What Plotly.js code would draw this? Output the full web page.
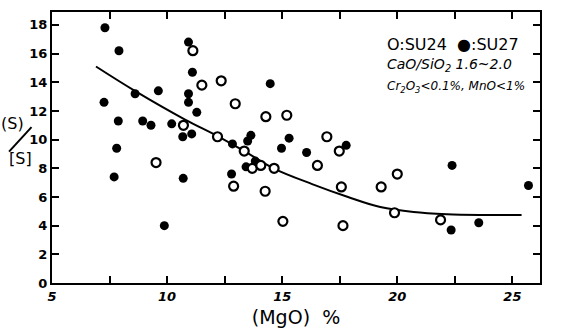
<!DOCTYPE html>
<html>
<head>
<meta charset="utf-8">
<script src="https://cdn.plot.ly/plotly-3.0.1.min.js"></script>
<style>html,body{margin:0;padding:0;background:#fff;}#chart{width:562px;height:334px;}</style>
</head>
<body>
<div id="chart"></div>
<script>
// SU24 (open circles)
const su24X = [11.12, 11.51, 12.35, 12.96, 14.29, 15.2, 10.71, 12.19, 13.35, 9.52, 12.89, 14.26, 15.03, 13.7, 14.07, 14.65, 16.94, 17.48, 16.53, 17.57, 19.3, 20.0, 19.88, 21.88, 17.64];
const su24Y = [16.2, 13.8, 14.1, 12.5, 11.6, 11.7, 11.0, 10.2, 9.2, 8.4, 6.75, 6.4, 4.3, 8.0, 8.2, 8.0, 10.2, 9.2, 8.2, 6.7, 6.7, 7.6, 4.9, 4.4, 4.0];
// SU27 (filled circles)
const su27X = [7.3, 7.91, 10.93, 11.1, 14.48, 8.61, 9.62, 10.93, 10.93, 7.26, 11.29, 7.88, 8.94, 9.3, 10.2, 11.07, 10.68, 7.81, 12.84, 13.64, 13.5, 14.97, 15.3, 16.06, 13.83, 13.43, 7.7, 10.7, 12.8, 9.88, 17.78, 22.38, 25.7, 22.34, 23.54];
const su27Y = [17.8, 16.2, 16.8, 14.7, 13.9, 13.2, 13.4, 13.2, 12.6, 12.6, 11.9, 11.3, 11.3, 11.0, 11.1, 10.4, 10.2, 9.4, 9.7, 10.3, 9.9, 9.4, 10.1, 9.1, 8.5, 8.1, 7.4, 7.3, 7.6, 4.0, 9.6, 8.2, 6.8, 3.7, 4.2];
// hand-drawn trend curve
const curveX = [6.91, 8.6, 10.78, 12.19, 13.35, 14.62, 16.3, 17.86, 19.26, 20.71, 22.16, 23.6, 25.4];
const curveY = [15.1, 13.4, 11.4, 10.25, 9.2, 8.0, 6.9, 6.0, 5.3, 4.95, 4.8, 4.75, 4.75];
const xTickVals = [5, 10, 15, 20, 25];
const yTickVals = [0, 2, 4, 6, 8, 10, 12, 14, 16, 18];

const data = [
  {x: curveX, y: curveY, mode: 'lines', type: 'scatter', line: {color: '#000', width: 2, shape: 'spline'}, hoverinfo: 'skip'},
  {x: su27X, y: su27Y, mode: 'markers', type: 'scatter', name: 'SU27',
   marker: {color: '#000', size: 9, symbol: 'circle'}},
  {x: su24X, y: su24Y, mode: 'markers', type: 'scatter', name: 'SU24',
   marker: {color: '#fff', size: 9, symbol: 'circle', line: {color: '#000', width: 2.2}}}
];

const fnt = {family: 'DejaVu Sans', color: '#000'};
const layout = {
  width: 562, height: 334,
  margin: {l: 52, r: 22, t: 12, b: 51},
  paper_bgcolor: '#fff', plot_bgcolor: '#fff',
  showlegend: false,
  xaxis: {
    range: [5, 26.2], tickvals: xTickVals,
    ticks: 'inside', ticklen: 7, tickwidth: 2, tickcolor: '#000',
    minor: {tick0: 5, dtick: 2.5, ticks: 'inside', ticklen: 7, tickwidth: 2, tickcolor: '#000', showgrid: false},
    showline: true, linewidth: 2, linecolor: '#000', mirror: 'ticks',
    showgrid: false, zeroline: false,
    tickfont: {family: 'DejaVu Sans', size: 13, color: '#000', style: 'italic', weight: 'bold'},
    title: {text: '(MgO)  %', font: {family: 'DejaVu Sans', size: 19, color: '#000'}, standoff: 8}
  },
  yaxis: {
    range: [0, 18.9], tickvals: yTickVals,
    ticks: 'inside', ticklen: 7, tickwidth: 2, tickcolor: '#000',
    showline: true, linewidth: 2, linecolor: '#000', mirror: 'ticks',
    showgrid: false, zeroline: false,
    tickfont: {family: 'DejaVu Sans', size: 13, color: '#000', weight: 'bold'}
  },
  shapes: [
    {type: 'line', xref: 'paper', yref: 'paper', x0: -0.088, y0: 0.485, x1: -0.042, y1: 0.575,
     line: {color: '#000', width: 2}}
  ],
  annotations: [
    {xref: 'paper', yref: 'paper', x: 0.682, y: 0.88, xanchor: 'left', yanchor: 'middle', showarrow: false,
     text: 'O:SU24  ●:SU27', font: Object.assign({size: 16}, fnt)},
    {xref: 'paper', yref: 'paper', x: 0.682, y: 0.805, xanchor: 'left', yanchor: 'middle', showarrow: false,
     text: 'CaO/SiO<sub>2</sub> 1.6~2.0', font: Object.assign({size: 14, style: 'italic'}, fnt)},
    {xref: 'paper', yref: 'paper', x: 0.682, y: 0.725, xanchor: 'left', yanchor: 'middle', showarrow: false,
     text: 'Cr<sub>2</sub>O<sub>3</sub><0.1%, MnO<1%', font: Object.assign({size: 12, style: 'italic'}, fnt)},
    {xref: 'paper', yref: 'paper', x: -0.08, y: 0.59, xanchor: 'center', yanchor: 'middle', showarrow: false,
     text: '(S)', font: Object.assign({size: 16}, fnt)},
    {xref: 'paper', yref: 'paper', x: -0.065, y: 0.46, xanchor: 'center', yanchor: 'middle', showarrow: false,
     text: '[S]', font: Object.assign({size: 16}, fnt)}
  ]
};

Plotly.newPlot('chart', data, layout, {displayModeBar: false, staticPlot: true});
</script>
</body>
</html>
